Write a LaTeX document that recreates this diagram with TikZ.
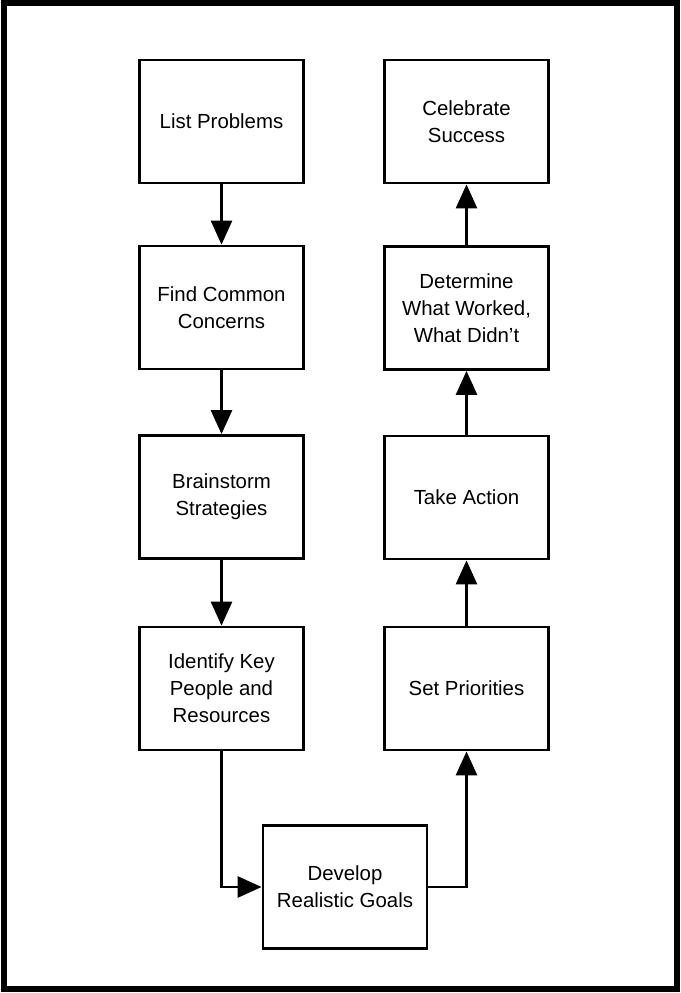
\documentclass[tikz,border=0pt]{standalone}
\usepackage{fontspec}
\setmainfont{Liberation Sans}
\usetikzlibrary{arrows.meta}
\tikzset{
  stepbox/.style={draw, line width=1.4pt, minimum width=82pt, minimum height=61.5pt,
    align=center, inner sep=2pt, font=\fontsize{10.2}{13.5}\selectfont},
  flow/.style={line width=1.4pt, -{Triangle[length=12pt,width=10.5pt]}}
}
\begin{document}
\begin{tikzpicture}[x=0.5pt,y=-0.5pt]
      \useasboundingbox (0,0) rectangle (681,993);
      \draw[line width=2.8pt] (4,3) rectangle (677,989);
      \draw
        (221.5,121.5) node[stepbox] (list){List Problems}
        (221.5,307.5) node[stepbox] (find){Find Common\\Concerns}
        (221.5,497) node[stepbox] (brain){Brainstorm\\Strategies}
        (221.5,688.5) node[stepbox] (ident){Identify Key\\People and\\Resources}
        (345,887) node[stepbox] (develop){Develop\\Realistic Goals}
        (466.5,688.5) node[stepbox] (prior){Set Priorities}
        (466.5,497.5) node[stepbox] (action){Take Action}
        (466.5,308) node[stepbox] (worked){Determine\\What Worked,\\What Didn't}
        (466.5,121.5) node[stepbox] (celebrate){Celebrate\\Success};
      \begin{scope}[flow]
        \draw (list) to (find);
        \draw (find) to (brain);
        \draw (brain) to (ident);
        \draw (ident.south) |- (develop.west);
        \draw (develop.east) -| (prior.south);
        \draw (prior) to (action);
        \draw (action) to (worked);
        \draw (worked) to (celebrate);
      \end{scope}
    \end{tikzpicture}
\end{document}
